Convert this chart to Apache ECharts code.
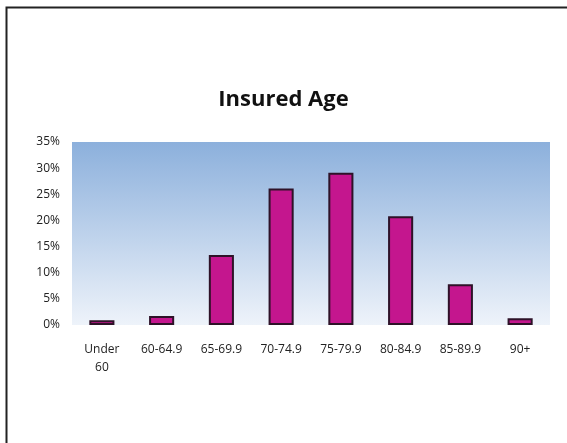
<!DOCTYPE html>
<html>
<head>
<meta charset="utf-8">
<script src="https://cdn.jsdelivr.net/npm/echarts@6/dist/echarts.min.js"></script>
<style>
    html, body { margin: 0; padding: 0; background: #fff; }
    #main { width: 567px; height: 443px; }
</style>
</head>
<body>
<div id="main"></div>
<script>
// 数据
var categories = ['Under\n60', '60-64.9', '65-69.9', '70-74.9', '75-79.9', '80-84.9', '85-89.9', '90+'];
var values = [0.9, 1.7, 13.4, 26.1, 29.1, 20.8, 7.8, 1.3];
var yTicks = [0, 5, 10, 15, 20, 25, 30, 35];

var chart = echarts.init(document.getElementById('main'));
var option = {
    backgroundColor: '#fff',
    animation: false,
    title: {
        text: 'Insured Age',
        left: 'center',
        top: 84,
        textStyle: {
            fontFamily: 'Open Sans',
            fontWeight: 'bold',
            fontSize: 22,
            color: '#111'
        }
    },
    // 外框
    graphic: [{
        type: 'rect',
        shape: { x: 6.5, y: 7.5, width: 600, height: 500 },
        style: { fill: 'none', stroke: '#222', lineWidth: 2 },
        silent: true
    }],
    grid: {
        left: 72,
        right: 17,
        top: 142,
        bottom: 118,
        show: true,
        borderWidth: 0,
        backgroundColor: {
            type: 'linear', x: 0, y: 0, x2: 0, y2: 1,
            colorStops: [
                { offset: 0, color: '#8cb0dc' },
                { offset: 1, color: '#eef3fa' }
            ]
        }
    },
    xAxis: {
        type: 'category',
        data: categories,
        axisLine: { show: false },
        axisTick: { show: false },
        axisLabel: {
            interval: 0,
            margin: 16,
            fontFamily: 'Open Sans',
            fontSize: 12,
            lineHeight: 18,
            color: '#222'
        }
    },
    yAxis: {
        type: 'value',
        min: yTicks[0],
        max: yTicks[yTicks.length - 1],
        interval: 5,
        splitLine: { show: false },
        axisLine: { show: false },
        axisTick: { show: false },
        axisLabel: {
            margin: 12,
            fontFamily: 'Open Sans',
            fontSize: 12,
            color: '#222',
            formatter: function (v) { return v + '%'; }
        }
    },
    series: [{
        type: 'bar',
        data: values,
        barWidth: '42%',
        itemStyle: {
            color: '#c4168e',
            borderColor: '#2e1228',
            borderWidth: 2
        }
    }]
};
chart.setOption(option);
</script>
</body>
</html>
